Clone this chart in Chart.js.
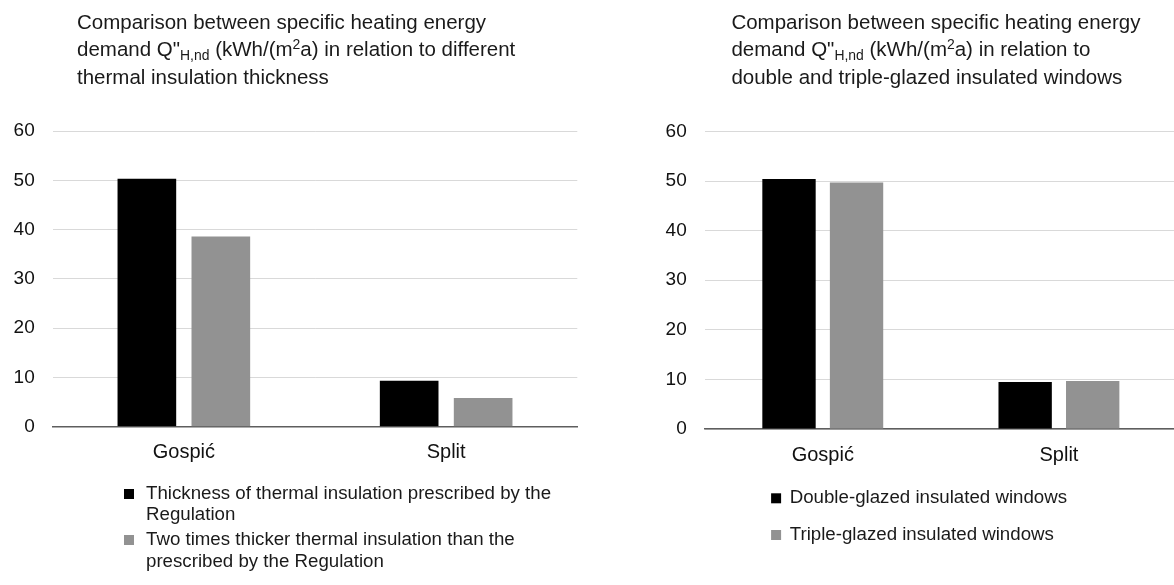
<!DOCTYPE html>
<html>
<head>
<meta charset="utf-8">
<script src="https://cdn.jsdelivr.net/npm/chart.js@4.4.1/dist/chart.umd.min.js"></script>
<style>
  html, body { margin: 0; padding: 0; background: #fff; overflow: hidden; width: 1174px; height: 585px; }
  canvas { position: absolute; top: 0; }
  #c1 { left: 0px; }
  #c2 { left: 651.6px; }
</style>
</head>
<body>
<canvas id="c1" width="590" height="585"></canvas>
<canvas id="c2" width="525" height="585"></canvas>
<script>
// ---------- data ----------
const categories = ['Gospić', 'Split'];

const insulationPrescribed = [50.3, 9.3];
const insulationDouble = [38.6, 5.8];

const windowsDouble = [50.4, 9.5];
const windowsTriple = [49.7, 9.7];

const yTicks = [0, 10, 20, 30, 40, 50, 60];

const leftSeriesLabels = [
  ['Thickness of thermal insulation prescribed by the', 'Regulation'],
  ['Two times thicker thermal insulation than the', 'prescribed by the Regulation']
];
const rightSeriesLabels = [
  ['Double-glazed insulated windows'],
  ['Triple-glazed insulated windows']
];

const leftTitle = [
  [['Comparison between specific heating energy', 'n']],
  [['demand Q"', 'n'], ['H,nd', 'sub'], [' (kWh/(m', 'n'], ['2', 'sup'], ['a) in relation to different', 'n']],
  [['thermal insulation thickness', 'n']]
];
const rightTitle = [
  [['Comparison between specific heating energy', 'n']],
  [['demand Q"', 'n'], ['H,nd', 'sub'], [' (kWh/(m', 'n'], ['2', 'sup'], ['a) in relation to', 'n']],
  [['double and triple-glazed insulated windows', 'n']]
];

// ---------- styling ----------
const FONT = '"Liberation Sans", Arial, sans-serif';
const BLACK = '#000000';
const GREY = '#929292';
Chart.defaults.font.family = FONT;
Chart.defaults.color = '#1a1a1a';

const richTitle = {
  id: 'richTitle',
  afterDraw(chart, args, opts) {
    const ctx = chart.ctx;
    ctx.save();
    ctx.fillStyle = '#1a1a1a';
    ctx.textBaseline = 'alphabetic';
    ctx.textAlign = 'left';
    opts.lines.forEach((segs, i) => {
      let x = opts.x;
      const y = opts.baselines[i];
      segs.forEach(([t, kind]) => {
        let size = opts.size, dy = 0;
        if (kind === 'sub') { size = opts.size * 0.68; dy = 4; }
        if (kind === 'sup') { size = opts.size * 0.68; dy = -7; }
        ctx.font = size + 'px ' + FONT;
        ctx.fillText(t, x, y + dy);
        x += ctx.measureText(t).width;
      });
    });
    ctx.restore();
  }
};

const customLegend = {
  id: 'customLegend',
  afterDraw(chart, args, opts) {
    const ctx = chart.ctx;
    ctx.save();
    ctx.font = opts.size + 'px ' + FONT;
    ctx.textBaseline = 'middle';
    ctx.textAlign = 'left';
    chart.data.datasets.forEach((ds, i) => {
      const rows = opts.rows[i];
      ctx.fillStyle = ds.backgroundColor;
      ctx.fillRect(opts.boxX, rows[0] - opts.box / 2, opts.box, opts.box);
      ctx.fillStyle = '#1a1a1a';
      opts.labels[i].forEach((line, j) => {
        ctx.fillText(line, opts.textX, rows[j]);
      });
    });
    ctx.restore();
  }
};

function makeChart(id, seriesA, seriesB, labels, title, titleX, legendOpts, padTop, padRight, xHeight, cp, bp) {
  return new Chart(document.getElementById(id), {
    type: 'bar',
    data: {
      labels: categories,
      datasets: [
        { label: labels[0].join(' '), data: seriesA, backgroundColor: BLACK, categoryPercentage: cp, barPercentage: bp },
        { label: labels[1].join(' '), data: seriesB, backgroundColor: GREY, categoryPercentage: cp, barPercentage: bp }
      ]
    },
    options: {
      responsive: false,
      animation: false,
      devicePixelRatio: 1,
      layout: { padding: { top: padTop, right: padRight, left: 0, bottom: 0 } },
      plugins: {
        legend: { display: false },
        title: { display: false },
        tooltip: { enabled: false },
        richTitle: { lines: title, x: titleX, baselines: [28.5, 56, 83.5], size: 20.5 },
        customLegend: Object.assign({ labels: labels, size: 18.7, box: 10 }, legendOpts)
      },
      scales: {
        x: {
          grid: { display: false, drawTicks: false },
          border: { display: true, color: '#5e5e5e', width: 1.5 },
          ticks: { font: { size: 20 }, color: '#111', padding: 14 },
          afterFit(s) { s.height = xHeight; }
        },
        y: {
          min: 0, max: 60,
          afterBuildTicks(s) { s.ticks = yTicks.map(v => ({ value: v })); },
          grid: { color: '#d9d9d9', lineWidth: 1, drawTicks: false },
          border: { display: false },
          ticks: { font: { size: 19 }, color: '#111', padding: 18 },
          afterFit(s) { s.width = 52.7; }
        }
      }
    },
    plugins: [richTitle, customLegend]
  });
}

makeChart('c1', insulationPrescribed, insulationDouble, leftSeriesLabels, leftTitle, 77,
  { boxX: 124, textX: 146, rows: [[494, 515], [540, 562]] },
  131, 12.7, 585 - 426.7, 0.564, 0.793);

makeChart('c2', windowsDouble, windowsTriple, rightSeriesLabels, rightTitle, 79.4,
  { boxX: 119.1, textX: 137.7, rows: [[498.3], [535]] },
  131.4, 0, 585 - 429, 0.572, 0.79);
</script>
</body>
</html>
